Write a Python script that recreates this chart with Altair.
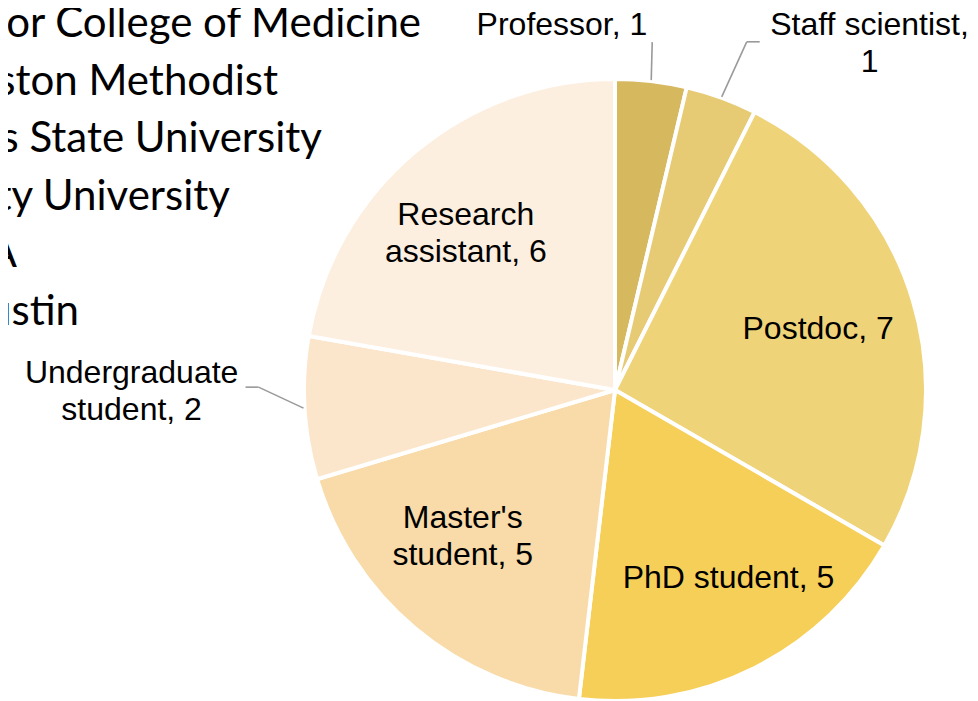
import altair as alt
import pandas as pd

# ---- data ----
categories = ["Professor", "Staff scientist", "Postdoc", "PhD student",
              "Master's student", "Undergraduate student", "Research assistant"]
counts = [1, 1, 7, 5, 5, 2, 6]
labels = ["Professor, 1", "Staff scientist,\n1", "Postdoc, 7", "PhD student, 5",
          "Master's\nstudent, 5", "Undergraduate\nstudent, 2", "Research\nassistant, 6"]
institutions = ["or College of Medicine", "ston Methodist", "s State University",
                "ty University", "A", "ustin"]

# ---- style / layout ----
colors = ["#d6b85f", "#e6ca74", "#efd379", "#f6cf58", "#f8dba8", "#fbe6cb", "#fdefdf"]
CX, CY, R = 607, 382, 311
W, H = 962, 693
LABEL_FONT = "Liberation Sans"
# per-label placement: (radius, dx, dy) -- multi-line labels anchor on first line
label_place = {
    "Professor": (370, -96, 2),
    "Staff scientist": (370, 128, -17),
    "Postdoc": (212, 0, 0),
    "PhD student": (215, 17, -4),
    "Master's student": (212, -16, -34),
    "Undergraduate student": (370, -114, -39),
    "Research assistant": (215, -11, -10),
}
# leader lines: elbow and end offsets from the arc point
leader_off = {
    "Professor": (1, -38, 1, -38),
    "Staff scientist": (25, -55, 38, -55),
    "Undergraduate student": (-45, -21, -58, -21),
}
# right edge of each (cropped) institution line
inst_right = [413, 270, 314, 222, 9, 71]

df = pd.DataFrame({"category": categories, "count": counts, "label": labels,
                   "idx": list(range(len(categories)))})
inst_df = pd.DataFrame({"name": institutions, "row": list(range(len(institutions))),
                        "xr": inst_right})

theta = alt.Theta("count:Q", stack=True)
order = alt.Order("idx:Q")

arcs = alt.Chart(df).mark_arc(radius=R, stroke="white", strokeWidth=4).encode(
    theta=theta,
    order=order,
    color=alt.Color("category:N", scale=alt.Scale(domain=categories, range=colors), legend=None),
    x=alt.value(CX), y=alt.value(CY),
)

text_layers = []
for cat in categories:
    r, dx, dy = label_place[cat]
    t = alt.Chart(df).mark_text(
        radius=r, dx=dx, dy=dy, font=LABEL_FONT, fontSize=32, lineBreak="\n",
        lineHeight=37, align="center", baseline="middle", color="black"
    ).encode(
        theta=theta, order=order,
        x=alt.value(CX), y=alt.value(CY),
        text=alt.condition(alt.datum.category == cat, alt.Text("label:N"), alt.value("")),
    )
    text_layers.append(t)


def pick(i):
    expr = "0"
    for cat, off in leader_off.items():
        expr = f"(datum.category == '{cat}' ? {off[i]} : {expr})"
    return expr


lead_base = alt.Chart(df).transform_joinaggregate(
    total="sum(count)"
).transform_window(
    cum="sum(count)", sort=[alt.SortField("idx")], frame=[None, 0]
).transform_filter(
    alt.FieldOneOfPredicate(field="category", oneOf=list(leader_off.keys()))
).transform_calculate(
    mid="(datum.cum - datum.count / 2) / datum.total * 2 * PI"
).transform_calculate(
    ax=f"{CX} + {R + 1} * sin(datum.mid)",
    ay=f"{CY} - {R + 1} * cos(datum.mid)",
).transform_calculate(
    ex="datum.ax + " + pick(0),
    ey="datum.ay + " + pick(1),
    fx="datum.ax + " + pick(2),
    fy="datum.ay + " + pick(3),
)

lead1 = lead_base.mark_rule(color="#9a9a9a", strokeWidth=1.6).encode(
    x=alt.X("ax:Q", scale=None), y=alt.Y("ay:Q", scale=None),
    x2="ex:Q", y2="ey:Q",
)
lead2 = lead_base.mark_rule(color="#9a9a9a", strokeWidth=1.6).encode(
    x=alt.X("ex:Q", scale=None), y=alt.Y("ey:Q", scale=None),
    x2="fx:Q", y2="fy:Q",
)

inst = alt.Chart(inst_df).mark_text(
    align="right", baseline="alphabetic", font="Lato", fontSize=42, color="black"
).encode(
    x=alt.X("xr:Q", scale=None),
    y=alt.Y("row:Q", scale=alt.Scale(domain=[0, 5], range=[29, 317]), axis=None),
    text="name:N",
)

chart = alt.layer(arcs, *text_layers, lead1, lead2, inst).resolve_scale(
    x="independent", y="independent"
).properties(
    width=W, height=H, padding=0, autosize=alt.AutoSizeParams(type="none")
).configure_view(stroke=None)

chart.save("out.html", embed_options={"renderer": "svg", "actions": False})
